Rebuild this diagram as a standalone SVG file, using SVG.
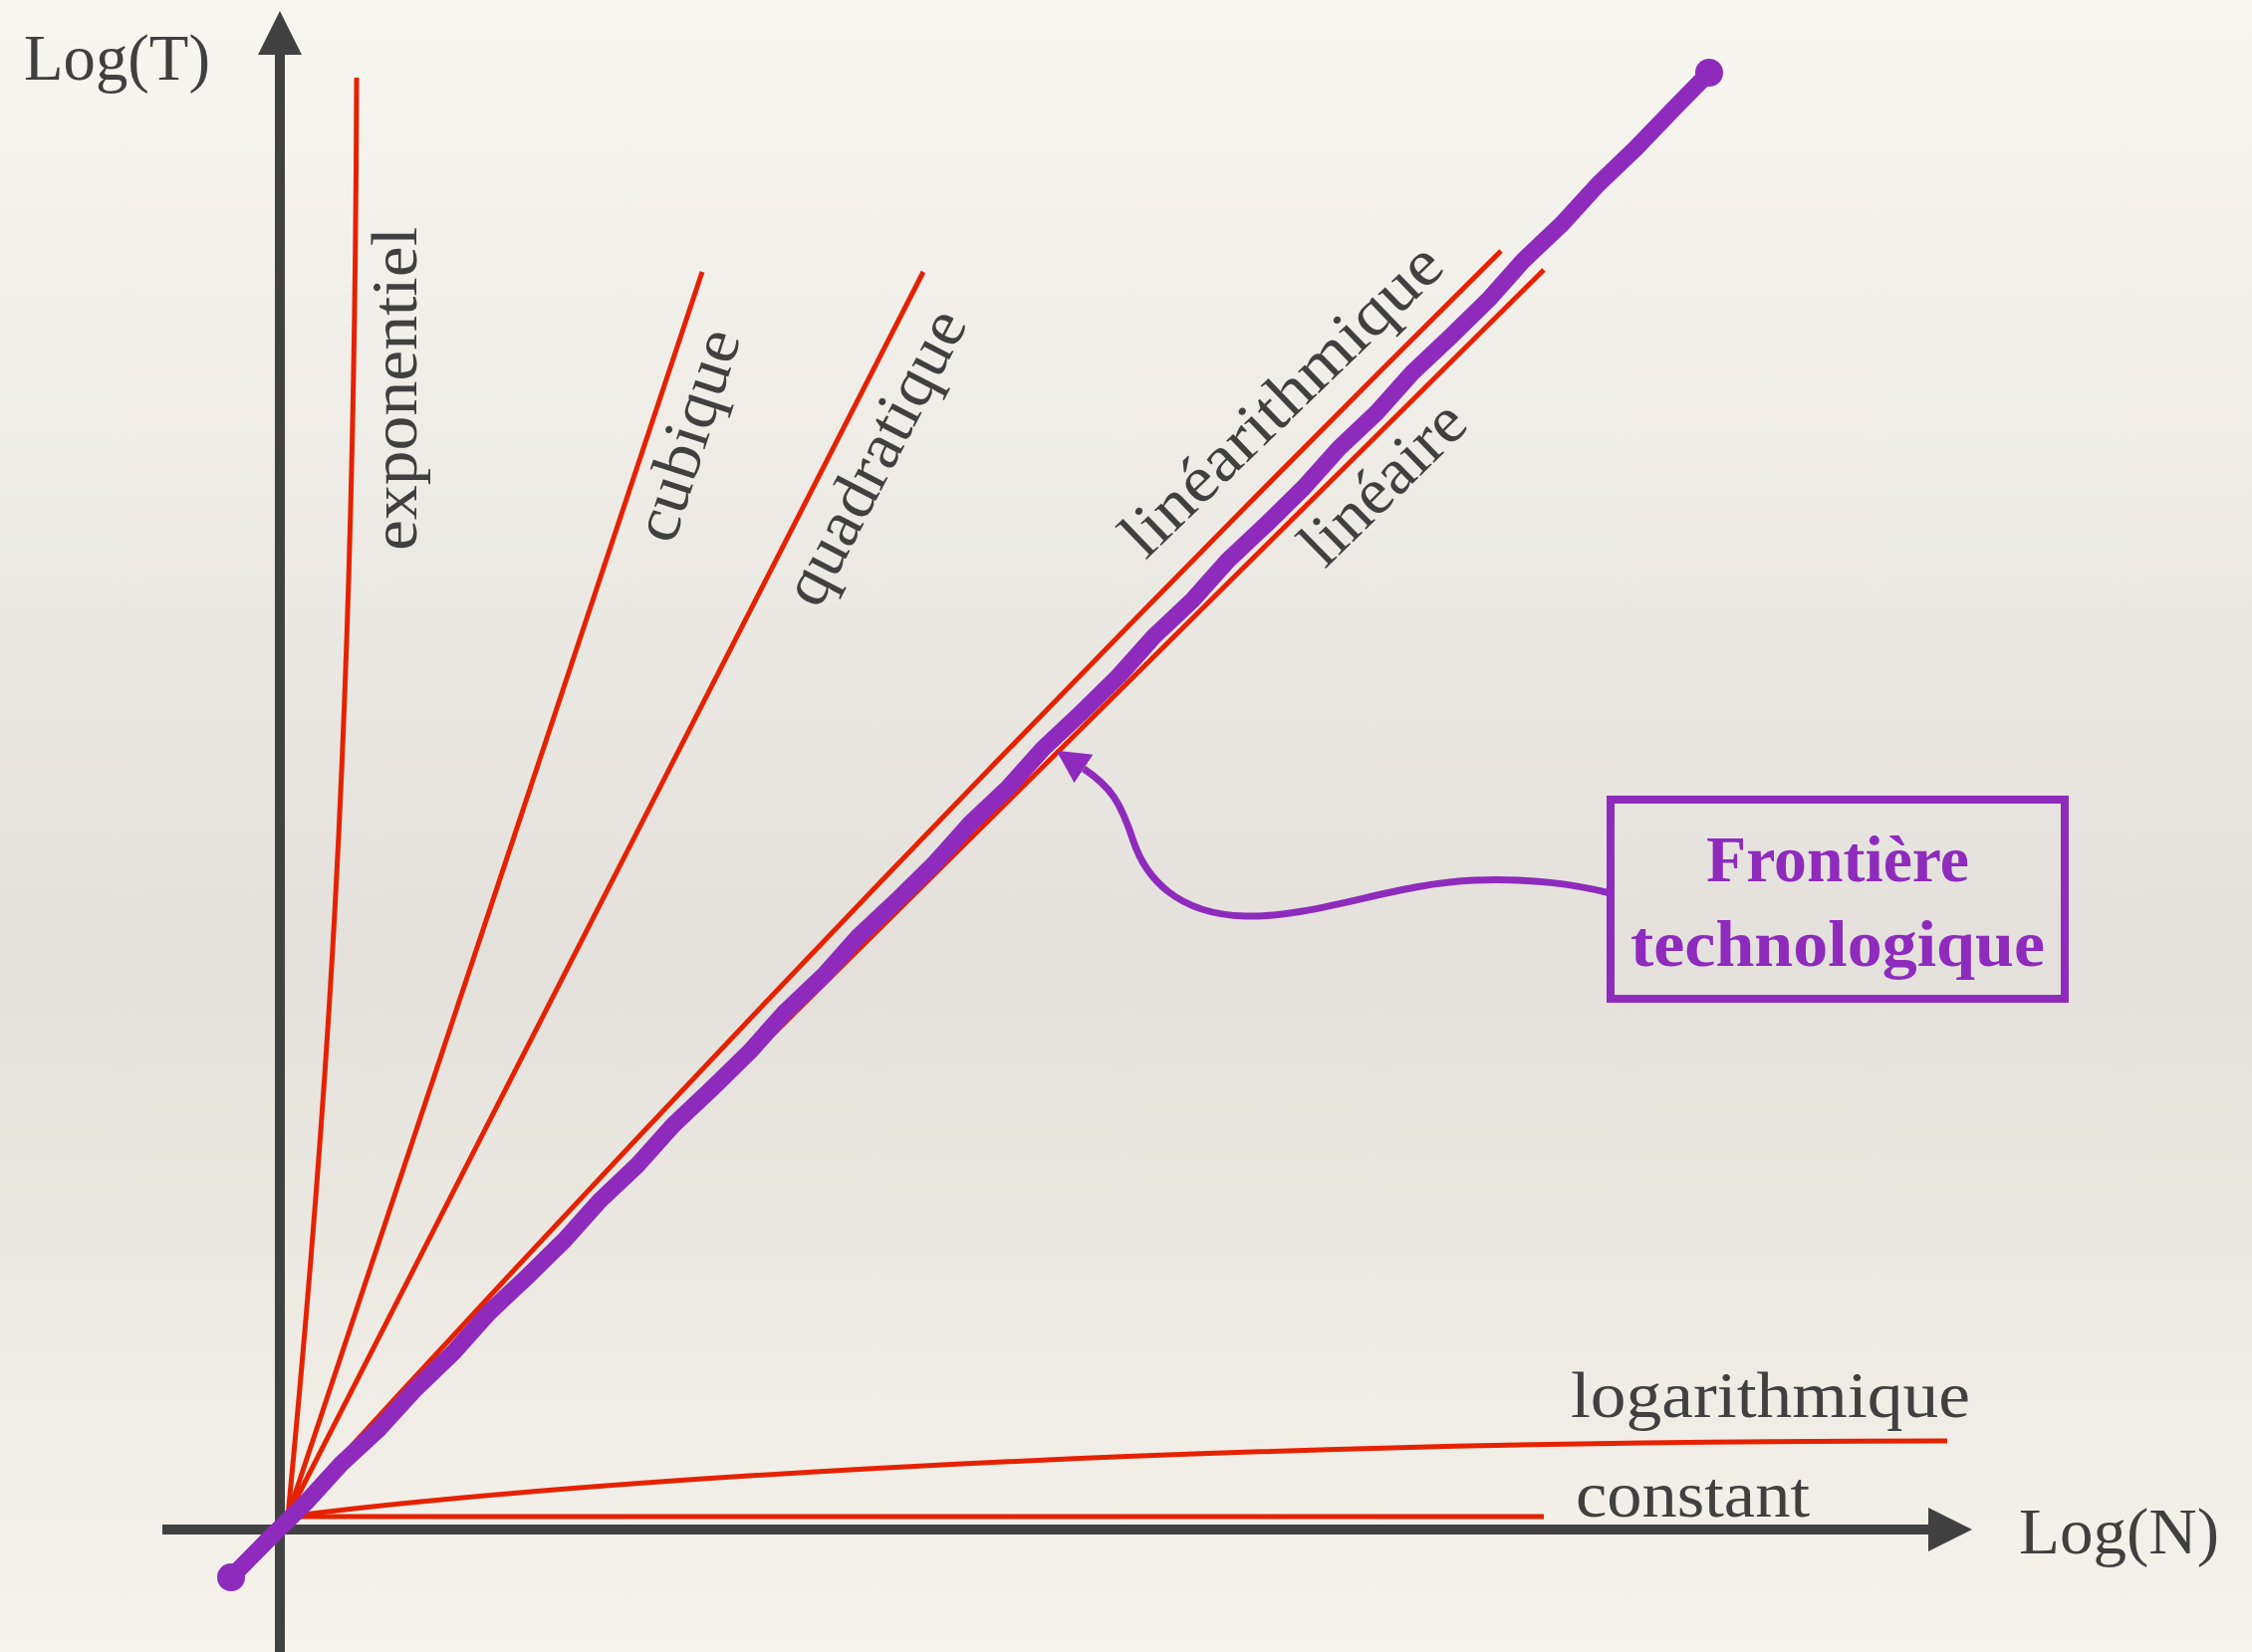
<svg xmlns="http://www.w3.org/2000/svg" width="2261" height="1659" viewBox="0 0 2261 1659">
<style>
.axis{stroke:#414141;stroke-width:10;fill:none}
.curve{stroke:#e52200;stroke-width:5;fill:none}
.lbl{font-family:"Liberation Serif","DejaVu Serif",serif;font-size:66px;fill:#404040}
.box{fill:none;stroke:#8e2bbd;stroke-width:8}
.boxtxt{font-family:"Liberation Serif","DejaVu Serif",serif;font-size:66px;font-weight:bold;fill:#8e2bbd}
.front{stroke:#8e2bbd;stroke-width:17;fill:none;stroke-linecap:round;stroke-linejoin:round}
.callout{stroke:#8e2bbd;stroke-width:7;fill:none}
</style>
<defs>
<linearGradient id="bg" x1="0" y1="0" x2="0" y2="1">
<stop offset="0" stop-color="#f8f6f0"/>
<stop offset="0.58" stop-color="#e4e1dc"/>
<stop offset="1" stop-color="#f6f3ec"/>
</linearGradient>
<marker id="axhead" markerUnits="userSpaceOnUse" markerWidth="50" markerHeight="50" viewBox="0 -25 50 50" refX="0" refY="0" orient="auto">
<path d="M0,-22 L44,0 L0,22 Z" fill="#414141"/>
</marker>
<marker id="callhead" markerUnits="userSpaceOnUse" markerWidth="40" markerHeight="40" viewBox="0 -20 40 40" refX="0" refY="0" orient="auto">
<path d="M0,-17 L33,0 L0,17 Z" fill="#8e2bbd"/>
</marker>
</defs>
<rect width="2261" height="1659" fill="url(#bg)"/>

<g id="axes">
<line class="axis" x1="281" y1="1659" x2="281" y2="55" marker-end="url(#axhead)"/>
<line class="axis" x1="163" y1="1536" x2="1936" y2="1536" marker-end="url(#axhead)"/>
<text class="lbl" x="24" y="80" textLength="187" lengthAdjust="spacingAndGlyphs">Log(T)</text>
<text class="lbl" x="2027" y="1560" textLength="201" lengthAdjust="spacingAndGlyphs">Log(N)</text>
</g>

<g id="connectors">
<path id="c-exp" class="curve" d="M289,1523 C325,1150 356,750 358,78"/>
<line id="c-cub" class="curve" x1="289" y1="1522" x2="705" y2="273"/>
<line id="c-quad" class="curve" x1="289" y1="1522" x2="927" y2="273"/>
<path id="c-linlog" class="curve" d="M289,1522 Q882,872 1507,252"/>
<line id="c-lin" class="curve" x1="289" y1="1522" x2="1550" y2="271"/>
<path id="c-log" class="curve" d="M290,1523 C500,1495 1100,1447 1955,1447"/>
<line id="c-const" class="curve" x1="290" y1="1523" x2="1550" y2="1523"/>
<path id="frontier-line" class="front" d="M232,1584 L269.1,1546.2 L306.9,1509.2 L342.6,1470 L381.5,1433.9 L417.1,1394.8 L455.3,1358.1 L490.6,1318.5 L529.2,1282.2 L567,1245.1 L602.3,1205.6 L640.8,1169.2 L676.1,1129.6 L714.7,1093.3 L752.5,1056.3 L787.8,1016.7 L826.3,980.3 L861.6,940.7 L900.2,904.5 L938,867.4 L973.3,827.8 L1011.8,791.4 L1047.1,751.9 L1085.7,715.6 L1123.5,678.5 L1158.8,638.9 L1197.3,602.6 L1232.6,563 L1271.2,526.7 L1309,489.6 L1344.3,450.1 L1382.8,413.7 L1418.1,374.1 L1456.7,337.8 L1494.5,300.8 L1529.8,261.2 L1568.3,224.8 L1604,185.6 L1642.2,149 L1678.9,110.8 L1716,73"/>
<circle cx="232" cy="1584" r="14" fill="#8e2bbd"/>
<circle cx="1716" cy="73" r="14" fill="#8e2bbd"/>
<path id="callout-arrow" class="callout" d="M1617,897 C1580,888 1540,882 1480,884 C1400,887 1320,922 1250,920 C1180,918 1150,880 1138,845 C1125,805 1115,790 1088,772" marker-end="url(#callhead)"/>
</g>

<g id="labels">
<text class="lbl" transform="translate(418,553) rotate(-90)" textLength="325" lengthAdjust="spacingAndGlyphs">exponentiel</text>
<text class="lbl" transform="translate(676,548) rotate(-72)" textLength="220" lengthAdjust="spacingAndGlyphs">cubique</text>
<text class="lbl" transform="translate(822,613) rotate(-62.5)" textLength="325" lengthAdjust="spacingAndGlyphs">quadratique</text>
<text class="lbl" transform="translate(1150,563) rotate(-44)" textLength="421" lengthAdjust="spacingAndGlyphs">linéarithmique</text>
<text class="lbl" transform="translate(1330,572) rotate(-44.4)" textLength="205" lengthAdjust="spacingAndGlyphs">linéaire</text>
<text class="lbl" x="1577" y="1423" textLength="401" lengthAdjust="spacingAndGlyphs">logarithmique</text>
<text class="lbl" x="1582" y="1523" textLength="235" lengthAdjust="spacingAndGlyphs">constant</text>
</g>

<g id="node-frontiere">
<rect class="box" x="1617" y="803" width="456" height="200"/>
<text class="boxtxt" x="1845" y="885" text-anchor="middle" textLength="264" lengthAdjust="spacingAndGlyphs">Frontière</text>
<text class="boxtxt" x="1845" y="970" text-anchor="middle" textLength="416" lengthAdjust="spacingAndGlyphs">technologique</text>
</g>
</svg>
